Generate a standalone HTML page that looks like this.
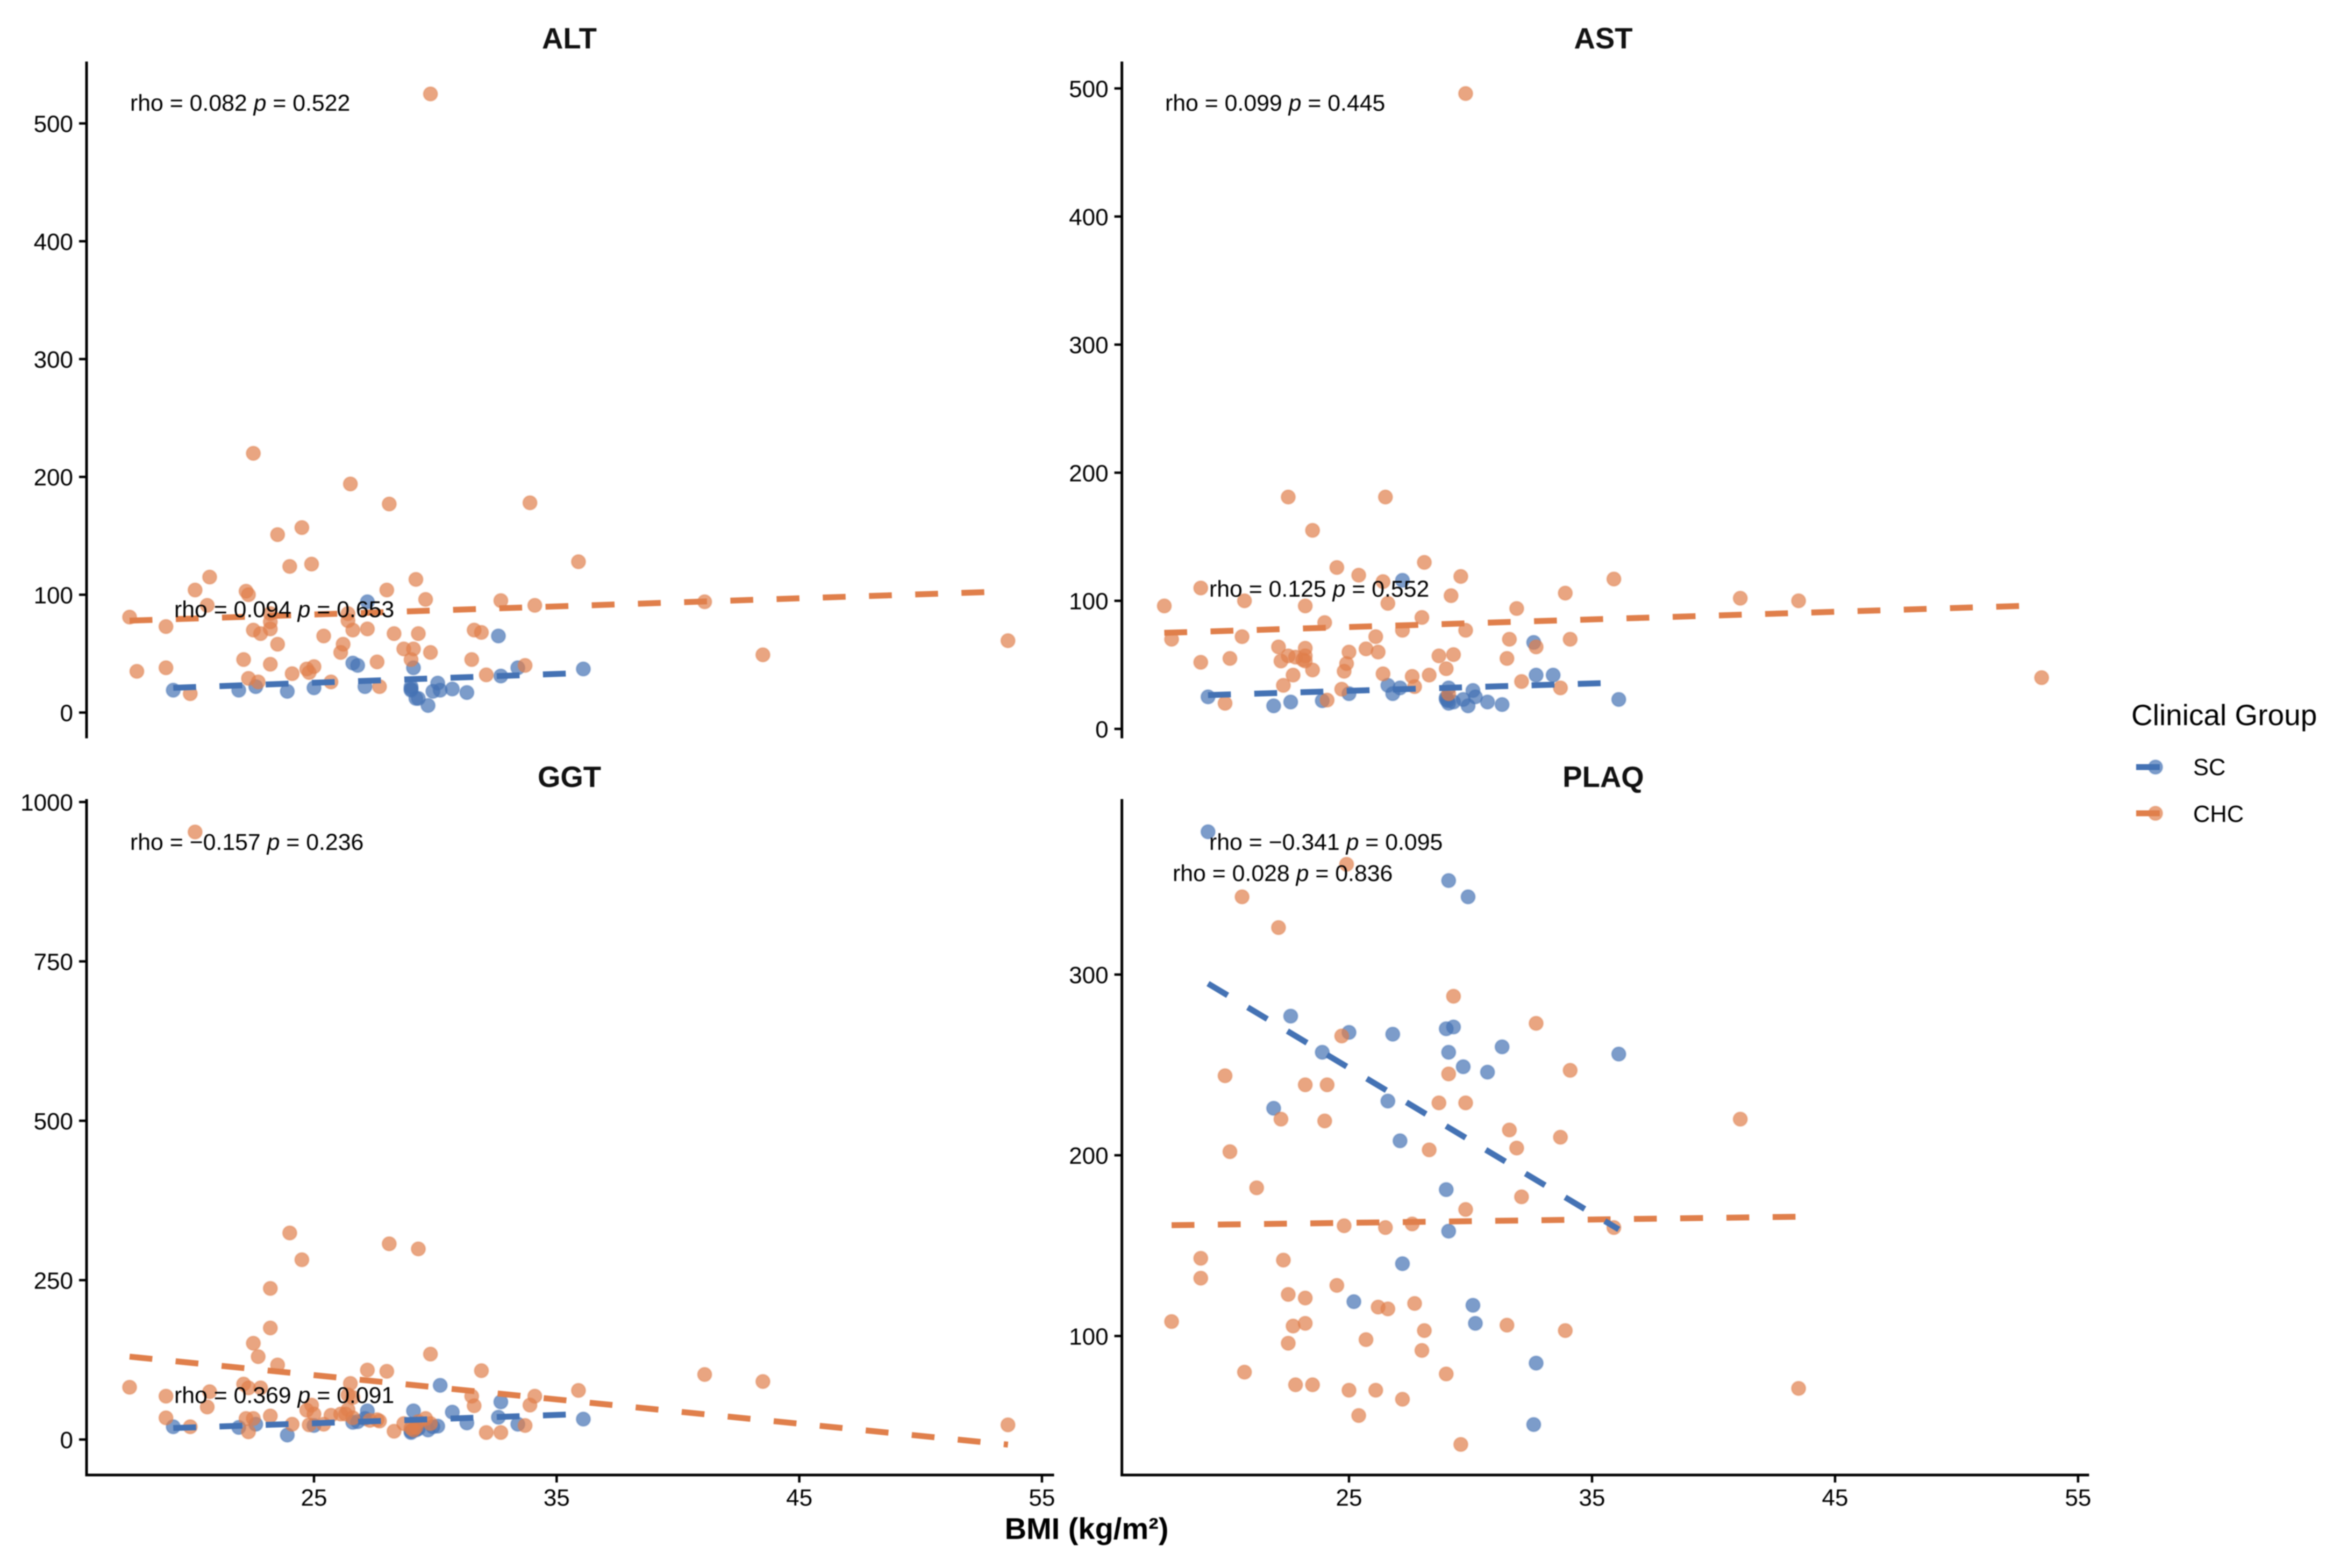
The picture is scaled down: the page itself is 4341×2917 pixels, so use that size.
<!DOCTYPE html>
<html lang="en">
<head>
<meta charset="utf-8">
<title>Liver enzymes and PLAQ versus BMI by clinical group</title>
<style>
  html, body { margin: 0; padding: 0; background: #fff; }
  #figure { display: block; width: 4341px; height: 2917px; background: #fff; filter: blur(1px); }
  text { font-family: "Liberation Sans", Arial, sans-serif; fill: #000; }
  .title { font-size: 54.5px; font-weight: 700; text-anchor: middle; fill: #111; }
  .note { font-size: 42.8px; }
  .note tspan { font-style: italic; }
  .tick-label { font-size: 44px; }
  .axis-line { stroke: #000; stroke-width: 5; fill: none; stroke-linecap: square; }
  .tick-mark { stroke: #000; stroke-width: 4.5; fill: none; }
</style>
</head>
<body>
<svg id="figure" xmlns="http://www.w3.org/2000/svg" width="4341" height="2917" viewBox="0 0 4341 2917">
  <rect width="4341" height="2917" fill="#fff"/>

  <g id="panel-alt"></g>
  <g id="panel-ast"></g>
  <g id="panel-ggt"></g>
  <g id="panel-plaq"></g>

  <text class="title" x="1059" y="90">ALT</text>
  <text class="title" x="2982" y="90">AST</text>
  <text class="title" x="1059" y="1464">GGT</text>
  <text class="title" x="2982" y="1464">PLAQ</text>

  <text class="note" x="242" y="206">rho = 0.082 <tspan>p</tspan> = 0.522</text>
  <text class="note" x="324" y="1148">rho = 0.094 <tspan>p</tspan> = 0.653</text>
  <text class="note" x="2167" y="206">rho = 0.099 <tspan>p</tspan> = 0.445</text>
  <text class="note" x="2249" y="1110">rho = 0.125 <tspan>p</tspan> = 0.552</text>
  <text class="note" x="242" y="1581">rho = −0.157 <tspan>p</tspan> = 0.236</text>
  <text class="note" x="324" y="2610">rho = 0.369 <tspan>p</tspan> = 0.091</text>
  <text class="note" x="2249" y="1581">rho = −0.341 <tspan>p</tspan> = 0.095</text>
  <text class="note" x="2181" y="1639">rho = 0.028 <tspan>p</tspan> = 0.836</text>

  <text x="2021" y="2863" text-anchor="middle" font-size="56" font-weight="700" fill="#111">BMI (kg/m²)</text>

  <g>
    <text x="3964" y="1349" font-size="55">Clinical Group</text>
    <g>
      <circle cx="4009" cy="1427" r="13" fill="#4472b4" fill-opacity="0.7" stroke="#4472b4" stroke-opacity="0.35" stroke-width="2.6"/>
      <line x1="3973" y1="1427" x2="4017" y2="1427" stroke="#4472b4" stroke-width="11"/>
      <text x="4079" y="1442" font-size="43.5">SC</text>
    </g>
    <g>
      <circle cx="4009" cy="1513" r="13" fill="#e07f4b" fill-opacity="0.7" stroke="#e07f4b" stroke-opacity="0.35" stroke-width="2.6"/>
      <line x1="3973" y1="1513" x2="4017" y2="1513" stroke="#e07f4b" stroke-width="11"/>
      <text x="4079" y="1529" font-size="43.5">CHC</text>
    </g>
  </g>
</svg>

<script>
/* ---------- tick labels ---------- */
const bmiTicks = [25, 35, 45, 55];
const altTicks = [0, 100, 200, 300, 400, 500];
const astTicks = [0, 100, 200, 300, 400, 500];
const ggtTicks = [0, 250, 500, 750, 1000];
const plaqTicks = [100, 200, 300];

/* ---------- ALT ---------- */
const altScBmi = [19.2,21.9,22.6,23.9,25,27.1,26.6,26.8,27.2,29.1,29,29,29.2,29.3,29.7,30.1,29.9,30.2,30.7,31.3,32.6,32.7,33.4,36.1,29];
const altScValues = [19,19,22,18,21,22,42,40,94,38,20,19,12,12,6,25,18,19,20,17,65,31,38,37,22];
const altChcBmi = [29.8,22.5,26.5,28.1,33.9,23.5,24.5,24,24.9,35.9,29.2,20.7,20.1,22.2,22.3,28,29.6,32.7,34.1,41.1,20.6,17.4,18.9,23.2,23.2,26.4,26.4,27.2,26.6,22.5,22.8,23.2,23.5,25.4,26.2,26.1,28.3,29.3,31.6,31.9,28.7,29.1,29.8,29,31.5,22.1,23.2,17.7,18.9,24.7,25,24.8,24.1,27.6,22.3,22.7,25.7,27.7,19.9,32.1,33.7,43.5,53.6];
const altChcValues = [525,220,194,177,178,151,157,124,126,128,113,115,104,103,100,104,96,95,91,94,91,81,73,84,77,84,78,71,70,70,67,71,58,65,58,51,67,67,70,68,54,54,51,45,45,45,41,35,38,37,39,34,33,43,29,26,26,22,16,32,40,49,61];
const altScTrendBmi = [19.2, 36.1];
const altScTrendValues = [21, 33.6];
const altChcTrendBmi = [17.4, 53.5];
const altChcTrendValues = [78, 102.8];

/* ---------- AST ---------- */
const astScBmi = [19.2,21.9,22.6,23.9,25,26.6,26.8,27.1,27.2,29.1,29,29.06,29.1,29.3,29.9,29.7,30.1,30.2,30.7,31.3,32.6,32.7,33.4,36.1,29];
const astScValues = [25,18,21,22,27.5,34,27.5,32,116,32,23,22,20,21,18,23,30,25,21,19,67.5,42,42,23,24.5];
const astChcBmi = [29.8,22.5,26.5,23.5,24.5,25.4,28.1,29.6,26.4,35.9,18.9,20.7,33.9,29.2,41.1,43.5,26.6,23.2,17.4,31.9,24,28,17.7,20.6,26.1,27.2,29.8,31.6,34.1,32.7,22.1,23.2,25.7,26.2,25,22.5,22.8,23.2,23.1,23.2,22.2,24.9,18.9,20.1,23.5,24.8,28.7,29.3,31.5,29,26.4,22.7,28.3,27.6,32.1,22.3,24.7,27.7,33.7,19.9,24.1,29.1,53.5];
const astChcValues = [496,181,181,155,126,120,130,119,115,117,110,100,106,104,102,100,98,96,96,94,83,87,70,72,72,77,77,70,70,64,64,63,62.5,60,60,57,56,57,54,53,53,51,52,55,46,45,57,58,55,47,43,42,42,41,37,34,31,33,32,20,22.5,27.5,40];
const astScTrendBmi = [19.2, 36.1];
const astScTrendValues = [26.4, 36.1];
const astChcTrendBmi = [17.4, 53.5];
const astChcTrendValues = [75, 96.5];

/* ---------- GGT ---------- */
const ggtScBmi = [19.2,21.9,22.6,23.9,25,27.1,27.2,26.6,26.8,29.1,29,29,29.2,29.3,29.7,30.1,30.2,30.7,31.3,32.6,32.7,33.4,36.1,29.9];
const ggtScValues = [20,19,24,7,22,33,45,27,28,45,13,11,15,17,15,21,85,43,26,35,59,24,32,20];
const ggtChcBmi = [20.1,24,24.5,28.1,29.3,23.2,23.2,29.8,22.5,22.7,23.5,31.9,27.2,28,41.1,43.5,17.4,22.1,20.7,18.9,22.8,22.3,26.5,26.4,26.6,35.9,34.1,31.5,31.6,33.9,20.6,24.9,24.7,25,26.4,25.7,26.1,26.3,18.9,23.2,22.2,22.5,24.1,24.8,25.4,19.9,22.3,27.6,27.7,28.7,29.6,29.8,29,29.1,28.3,32.1,32.7,33.7,53.6,29.3,26.6,29.2,27.3];
const ggtChcValues = [953,324,282,307,299,237,175,134,151,130,117,108,109,107,102,91,82,87,75,68,81,81,88,70,66,77,68,68,53,54,51,54,46,40,47,38,40,40,34,37,33,33,24,23,24,20,12,31,29,25,33,25,18,15,13,11,11,22,23,28,34,19,30];
const ggtScTrendBmi = [19.2, 36.1];
const ggtScTrendValues = [18, 40];
const ggtChcTrendBmi = [17.4, 53.6];
const ggtChcTrendValues = [130, -8];

/* ---------- PLAQ ---------- */
const plaqScBmi = [19.2,29.1,29.9,22.6,25,26.8,29,29.3,31.3,29.1,23.9,36.1,29.7,30.7,26.6,21.9,27.1,29,29.1,27.2,25.2,30.1,30.2,32.7,32.6];
const plaqScValues = [379,352,343,277,268,267,270,271,260,257,257,256,249,246,230,226,208,181,158,140,119,117,107,85,51];
const plaqChcBmi = [24.9,20.6,22.1,29.3,32.7,24.7,34.1,29.1,19.9,23.2,24.1,28.7,29.8,22.2,24,41.1,31.6,33.7,28.3,31.9,20.1,21.2,32.1,29.8,24.8,26.5,27.6,35.9,18.9,18.9,22.3,24.5,22.5,23.2,27.7,26.2,26.6,17.7,22.7,23.2,31.5,28.1,33.9,25.7,22.5,28,29,20.7,22.8,23.5,25,26.1,27.2,25.4,29.6,43.5];
const plaqChcValues = [361,343,326,288,273,266,247,245,244,239,239,229,229,220,219,220,214,210,203,204,202,182,177,170,161,160,162,160,143,132,142,128,123,121,118,116,115,108,105.5,107,106,103,103,98,96,92,79,80,73,73,70,70,65,56,40,71];
const plaqScTrendBmi = [19.2, 36.1];
const plaqScTrendValues = [295, 159];
const plaqChcTrendBmi = [17.7, 43.5];
const plaqChcTrendValues = [161.3, 166];

/* ---------- colours and layout ---------- */
const scColor = '#4472b4';
const chcColor = '#e07f4b';
const SVG_NS = 'http://www.w3.org/2000/svg';

const panelLayouts = [
  { key: 'alt', left: 161, right: 1958, top: 117, bottom: 1371, bmi25: 584, pxPerBmi: 45.13, zeroY: 1325.6, pxPerValue: 2.192, yTicks: altTicks, showX: false,
    scBmi: altScBmi, scValues: altScValues, chcBmi: altChcBmi, chcValues: altChcValues,
    scTrendBmi: altScTrendBmi, scTrendValues: altScTrendValues, chcTrendBmi: altChcTrendBmi, chcTrendValues: altChcTrendValues },
  { key: 'ast', left: 2086.6, right: 3883, top: 117, bottom: 1371, bmi25: 2509, pxPerBmi: 45.2, zeroY: 1356, pxPerValue: 2.383, yTicks: astTicks, showX: false,
    scBmi: astScBmi, scValues: astScValues, chcBmi: astChcBmi, chcValues: astChcValues,
    scTrendBmi: astScTrendBmi, scTrendValues: astScTrendValues, chcTrendBmi: astChcTrendBmi, chcTrendValues: astChcTrendValues },
  { key: 'ggt', left: 161, right: 1958, top: 1489, bottom: 2744, bmi25: 584, pxPerBmi: 45.13, zeroY: 2678, pxPerValue: 1.186, yTicks: ggtTicks, showX: true,
    scBmi: ggtScBmi, scValues: ggtScValues, chcBmi: ggtChcBmi, chcValues: ggtChcValues,
    scTrendBmi: ggtScTrendBmi, scTrendValues: ggtScTrendValues, chcTrendBmi: ggtChcTrendBmi, chcTrendValues: ggtChcTrendValues },
  { key: 'plaq', left: 2086.6, right: 3883, top: 1489, bottom: 2744, bmi25: 2509, pxPerBmi: 45.2, zeroY: 2821.6, pxPerValue: 3.362, yTicks: plaqTicks, showX: true,
    scBmi: plaqScBmi, scValues: plaqScValues, chcBmi: plaqChcBmi, chcValues: plaqChcValues,
    scTrendBmi: plaqScTrendBmi, scTrendValues: plaqScTrendValues, chcTrendBmi: plaqChcTrendBmi, chcTrendValues: plaqChcTrendValues }
];

function svgEl(tag) {
  return document.createElementNS(SVG_NS, tag);
}

function drawDots(group, bmi, values, xScale, yScale, color, seriesName) {
  bmi.forEach(function (b, i) {
    const dot = svgEl('circle');
    
    
    dot.setAttribute('cx', xScale(b));
    dot.setAttribute('cy', yScale(values[i]));
    dot.setAttribute('r', 13);
    dot.setAttribute('fill', color);
    dot.setAttribute('fill-opacity', 0.7);
    dot.setAttribute('stroke', color);
    dot.setAttribute('stroke-opacity', 0.35);
    dot.setAttribute('stroke-width', 2.6);
    group.appendChild(dot);
  });
}

function drawTrend(group, bmi, values, xScale, yScale, color, seriesName) {
  const trend = svgEl('line');
  
  
  trend.setAttribute('x1', xScale(bmi[0]));
  trend.setAttribute('y1', yScale(values[0]));
  trend.setAttribute('x2', xScale(bmi[1]));
  trend.setAttribute('y2', yScale(values[1]));
  trend.setAttribute('stroke', color);
  trend.setAttribute('stroke-width', 11);
  trend.setAttribute('stroke-dasharray', '42.5 43.5');
  group.appendChild(trend);
}

panelLayouts.forEach(function (p) {
  const group = document.getElementById('panel-' + p.key);
  const xScale = function (v) { return p.bmi25 + (v - 25) * p.pxPerBmi; };
  const yScale = function (v) { return p.zeroY - v * p.pxPerValue; };

  /* axes */
  const yAxis = svgEl('line');
  
  
  yAxis.setAttribute('class', 'axis-line');
  yAxis.setAttribute('x1', p.left);
  yAxis.setAttribute('x2', p.left);
  yAxis.setAttribute('y1', p.top);
  yAxis.setAttribute('y2', p.bottom);
  group.appendChild(yAxis);

  p.yTicks.forEach(function (t) {
    const mark = svgEl('line');
    
    
    mark.setAttribute('class', 'tick-mark');
    mark.setAttribute('x1', p.left - 14);
    mark.setAttribute('x2', p.left);
    mark.setAttribute('y1', yScale(t));
    mark.setAttribute('y2', yScale(t));
    group.appendChild(mark);

    const label = svgEl('text');
    
    
    label.setAttribute('class', 'tick-label');
    label.setAttribute('text-anchor', 'end');
    label.setAttribute('x', p.left - 25);
    label.setAttribute('y', yScale(t) + 16);
    label.textContent = String(t);
    group.appendChild(label);
  });

  if (p.showX) {
    const xAxis = svgEl('line');
    
    
    xAxis.setAttribute('class', 'axis-line');
    xAxis.setAttribute('x1', p.left);
    xAxis.setAttribute('x2', p.right);
    xAxis.setAttribute('y1', p.bottom);
    xAxis.setAttribute('y2', p.bottom);
    group.appendChild(xAxis);

    bmiTicks.forEach(function (t) {
      const mark = svgEl('line');
      
      
      mark.setAttribute('class', 'tick-mark');
      mark.setAttribute('x1', xScale(t));
      mark.setAttribute('x2', xScale(t));
      mark.setAttribute('y1', p.bottom);
      mark.setAttribute('y2', p.bottom + 14);
      group.appendChild(mark);

      const label = svgEl('text');
      
      
      label.setAttribute('class', 'tick-label');
      label.setAttribute('text-anchor', 'middle');
      label.setAttribute('x', xScale(t));
      label.setAttribute('y', 2801);
      label.textContent = String(t);
      group.appendChild(label);
    });
  }

  /* marks: SC points, CHC points, then trend lines on top */
  drawDots(group, p.scBmi, p.scValues, xScale, yScale, scColor, p.key + '-sc');
  drawDots(group, p.chcBmi, p.chcValues, xScale, yScale, chcColor, p.key + '-chc');
  drawTrend(group, p.chcTrendBmi, p.chcTrendValues, xScale, yScale, chcColor, p.key + '-chc');
  drawTrend(group, p.scTrendBmi, p.scTrendValues, xScale, yScale, scColor, p.key + '-sc');
});
</script>
</body>
</html>
